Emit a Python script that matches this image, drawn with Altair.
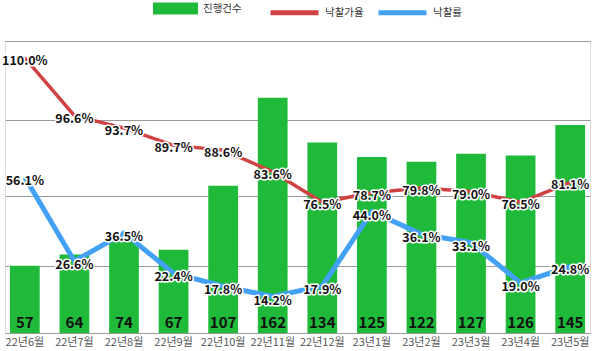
import altair as alt
import pandas as pd

months = ["22년6월", "22년7월", "22년8월", "22년9월", "22년10월", "22년11월",
          "22년12월", "23년1월", "23년2월", "23년3월", "23년4월", "23년5월"]
counts = [57, 64, 74, 67, 107, 162, 134, 125, 122, 127, 126, 145]
price_ratio = [110.0, 96.6, 93.7, 89.7, 88.6, 83.6, 76.5, 78.7, 79.8, 79.0, 76.5, 81.1]
sale_rate = [56.1, 26.6, 36.5, 22.4, 17.8, 14.2, 17.9, 44.0, 36.1, 33.1, 19.0, 24.8]
series_names = ["진행건수", "낙찰가율", "낙찰률"]

df = pd.DataFrame({"month": months, "count": counts, "price": price_ratio, "rate": sale_rate})
df["price_label"] = [f"{v:.1f}%" for v in price_ratio]
df["rate_label"] = [f"{v:.1f}%" for v in sale_rate]
df["s_bar"] = series_names[0]
df["s_price"] = series_names[1]
df["s_rate"] = series_names[2]

FONT = "Noto Sans CJK KR"
GREEN = "#1fba3a"
RED = "#d04242"
BLUE = "#43a1f5"

x = alt.X("month:N", sort=months, title=None,
          scale=alt.Scale(paddingInner=0.4, paddingOuter=0.1),
          axis=alt.Axis(labelAngle=0, ticks=False, labelPadding=3, labelFontSize=11,
                        labelColor="#555", labelFont=FONT, domainColor="#999",
                        grid=False))

base = alt.Chart(df)

bars = base.mark_bar(clip=True).encode(
    x=x,
    y=alt.Y("count:Q", scale=alt.Scale(domain=[15, 197.5], zero=False, nice=False),
            axis=alt.Axis(values=[57, 100.6, 148.1, 197.5], labels=False, ticks=False,
                          domain=False, title=None, grid=True, gridColor="#999",
                          gridWidth=1)),
    fill=alt.Fill("s_bar:N",
                  scale=alt.Scale(domain=[series_names[0]], range=[GREEN]),
                  legend=alt.Legend(orient="none", legendX=148, legendY=-55,
                                    direction="horizontal", title=None,
                                    symbolType="M-1,-0.27H1V0.27H-1Z", symbolSize=2025,
                                    symbolStrokeWidth=0, labelFont=FONT, labelFontSize=10.5,
                                    labelColor="#333", labelOffset=5, padding=0)),
)
bar_text = base.mark_text(font=FONT, fontSize=15, fontWeight="bold", color="#111",
                          baseline="middle").encode(
    x=x, y=alt.value(282), text=alt.Text("count:Q"))

stroke_scale = alt.Scale(domain=series_names[1:], range=[RED, BLUE])
stroke_legend = alt.Legend(orient="none", legendX=263, legendY=-55, direction="horizontal",
                           title=None, symbolType="M-1,0H1", symbolSize=2304,
                           symbolStrokeWidth=5, labelFont=FONT, labelFontSize=10.5,
                           labelColor="#333", labelOffset=4, columnPadding=4, padding=0)

price_y = alt.Y("price:Q", scale=alt.Scale(domain=[46.2, 113.9], zero=False, nice=False), axis=None)
rate_y = alt.Y("rate:Q", scale=alt.Scale(domain=[1.4, 103.9], zero=False, nice=False), axis=None)

LBL = dict(font=FONT, fontSize=12.5, fontWeight="bold")

red_line = base.mark_line(strokeWidth=3.5).encode(
    x=x, y=price_y, stroke=alt.Stroke("s_price:N", scale=stroke_scale, legend=stroke_legend))
red_halo = base.mark_text(**LBL, dy=3, fill="white", stroke="white", strokeWidth=3,
                          strokeJoin="round").encode(x=x, y=price_y, text="price_label:N")
red_text = base.mark_text(**LBL, dy=3, color="#111").encode(
    x=x, y=price_y, text="price_label:N")

blue_line = base.mark_line(strokeWidth=5).encode(
    x=x, y=rate_y, stroke=alt.Stroke("s_rate:N", scale=stroke_scale, legend=stroke_legend))
blue_halo = base.mark_text(**LBL, dy=4, fill="white", stroke="white", strokeWidth=3,
                           strokeJoin="round").encode(x=x, y=rate_y, text="rate_label:N")
blue_text = base.mark_text(**LBL, dy=4, color="#111").encode(
    x=x, y=rate_y, text="rate_label:N")

chart = alt.layer(
    alt.layer(bars, bar_text),
    alt.layer(red_line, red_halo, red_text),
    alt.layer(blue_line, blue_halo, blue_text),
).resolve_scale(y="independent").properties(
    width=585, height=292, autosize="none",
    padding={"left": 5, "top": 41, "right": 10, "bottom": 18},
).configure_view(stroke=None).configure(background="white")

chart.save("out.html", embed_options={"renderer": "svg", "actions": False})
